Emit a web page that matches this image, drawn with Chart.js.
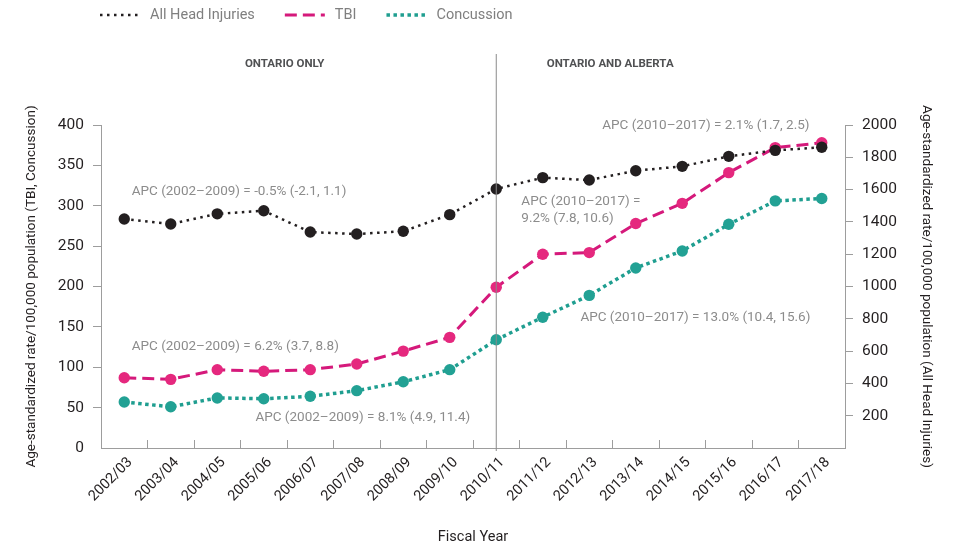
<!DOCTYPE html>
<html>
<head>
<meta charset="utf-8">
<script src="https://cdn.jsdelivr.net/npm/chart.js@4.4.1/dist/chart.umd.min.js"></script>
<style>
  html, body { margin: 0; padding: 0; background: #fff; }
  #wrap { width: 962px; height: 560px; }
</style>
</head>
<body>
<div id="wrap"><canvas id="chart"></canvas></div>
<script>
// Data
const fiscalYears = ['2002/03', '2003/04', '2004/05', '2005/06', '2006/07', '2007/08', '2008/09', '2009/10',
                     '2010/11', '2011/12', '2012/13', '2013/14', '2014/15', '2015/16', '2016/17', '2017/18'];
const allHeadInjuries = [1418, 1387, 1450, 1469, 1337, 1325, 1342, 1445, 1604, 1674, 1659, 1717, 1744, 1806, 1843, 1862];
const tbi = [87, 85, 97, 95, 97, 104, 120, 137, 199, 240, 242, 278, 303, 341, 372, 378];
const concussion = [57, 51, 62, 61, 64, 71, 82, 97, 134, 162, 189, 223, 244, 277, 306, 309];

const leftAxisMax = 400, leftAxisStep = 50;
const rightAxisMax = 2000, rightAxisStep = 200;

const sections = ['ONTARIO ONLY', 'ONTARIO AND ALBERTA'];
const splitIndex = 8; // 2010/11, where Alberta joins

// APC notes: [text lines, category index, left-axis value]
const apcNotes = [
  { lines: ['APC (2002\u20132009) = -0.5% (-2.1, 1.1)'], x: 0.16, y: 317 },
  { lines: ['APC (2002\u20132009) = 6.2% (3.7, 8.8)'], x: 0.16, y: 126 },
  { lines: ['APC (2002\u20132009) = 8.1% (4.9, 11.4)'], x: 2.82, y: 37 },
  { lines: ['APC (2010\u20132017) = 2.1% (1.7, 2.5)'], x: 10.28, y: 399 },
  { lines: ['APC (2010\u20132017) =', '9.2% (7.8, 10.6)'], x: 8.54, y: 305 },
  { lines: ['APC (2010\u20132017) = 13.0% (10.4, 15.6)'], x: 9.81, y: 161 }
];

const FONT = 'Roboto, "Noto Sans", sans-serif';
const axisGray = '#9d9d9d';
const textDark = '#231f20';

// Legend drawn as line samples, like the original
const legendPlugin = {
  id: 'lineLegend',
  afterDraw(chart) {
    const ctx = chart.ctx;
    let x = 100;
    const y = 15;
    ctx.save();
    ctx.font = '14.5px ' + FONT;
    ctx.textBaseline = 'middle';
    chart.data.datasets.forEach(ds => {
      ctx.beginPath();
      ctx.strokeStyle = ds.borderColor;
      ctx.lineWidth = ds.borderWidth;
      ctx.setLineDash(ds.borderDash);
      ctx.moveTo(x, y);
      ctx.lineTo(x + 40, y);
      ctx.stroke();
      ctx.setLineDash([]);
      ctx.fillStyle = '#7f7f7f';
      ctx.fillText(ds.label, x + 50, y);
      x += 50 + ctx.measureText(ds.label).width + 30;
    });
    ctx.restore();
  }
};

// Divider, section headers and APC notes
const notesPlugin = {
  id: 'notes',
  afterDatasetsDraw(chart) {
    const ctx = chart.ctx;
    const xs = chart.scales.x, ys = chart.scales.y;
    const area = chart.chartArea;
    const xDiv = xs.getPixelForValue(splitIndex);
    ctx.save();
    ctx.beginPath();
    ctx.strokeStyle = '#8a8a8a';
    ctx.lineWidth = 1;
    ctx.moveTo(xDiv, 54);
    ctx.lineTo(xDiv, area.bottom + 3);
    ctx.stroke();

    ctx.font = 'bold 11.5px ' + FONT;
    ctx.fillStyle = '#505153';
    ctx.textAlign = 'center';
    ctx.textBaseline = 'middle';
    ctx.fillText(sections[0], xs.getPixelForValue(3.45), 64);
    ctx.fillText(sections[1], xs.getPixelForValue(10.45), 64);

    ctx.font = '13.5px ' + FONT;
    ctx.fillStyle = '#8c8c8c';
    ctx.textAlign = 'left';
    apcNotes.forEach(n => {
      const px = xs.getPixelForValue(n.x);
      const py = ys.getPixelForValue(n.y);
      n.lines.forEach((line, i) => ctx.fillText(line, px, py + i * 17));
    });
    ctx.restore();
  }
};

new Chart(document.getElementById('chart'), {
  type: 'line',
  data: {
    labels: fiscalYears,
    datasets: [
      {
        label: 'All Head Injuries',
        data: allHeadInjuries,
        yAxisID: 'y2',
        borderColor: '#231f20',
        backgroundColor: '#231f20',
        borderWidth: 2.5,
        borderDash: [2.5, 4.5],
        pointRadius: 5.7,
        pointBorderWidth: 0,
        pointBackgroundColor: '#231f20'
      },
      {
        label: 'TBI',
        data: tbi,
        yAxisID: 'y',
        borderColor: '#d5197b',
        backgroundColor: '#e5287e',
        borderWidth: 3,
        borderDash: [12, 6],
        pointRadius: 5.7,
        pointBorderWidth: 0,
        pointBackgroundColor: '#e5287e'
      },
      {
        label: 'Concussion',
        data: concussion,
        yAxisID: 'y',
        borderColor: '#1f9e90',
        backgroundColor: '#22a194',
        borderWidth: 3.5,
        borderDash: [3.5, 3.5],
        pointRadius: 5.7,
        pointBorderWidth: 0,
        pointBackgroundColor: '#22a194'
      }
    ]
  },
  options: {
    responsive: true,
    maintainAspectRatio: false,
    animation: false,
    layout: { padding: { top: 125, left: 0, right: 0, bottom: 0 } },
    plugins: {
      legend: { display: false },
      tooltip: { enabled: false }
    },
    scales: {
      x: {
        offset: true,
        grid: {
          offset: true,
          drawOnChartArea: false,
          drawTicks: true,
          tickLength: -8,
          color: axisGray
        },
        border: { color: axisGray },
        ticks: {
          autoSkip: false,
          minRotation: 45,
          maxRotation: 45,
          padding: 14,
          labelOffset: 6,
          color: textDark,
          font: { family: FONT, size: 14.5 }
        },
        title: {
          display: true,
          text: 'Fiscal Year',
          color: textDark,
          padding: { top: 4, bottom: 14 },
          font: { family: FONT, size: 14.5 }
        },
        afterFit(scale) { scale.height = 112; }
      },
      y: {
        position: 'left',
        min: 0,
        max: leftAxisMax,
        ticks: {
          stepSize: leftAxisStep,
          padding: 9,
          color: textDark,
          font: { family: FONT, size: 15.5 }
        },
        grid: {
          drawOnChartArea: false,
          tickLength: 8,
          color: ctx => (ctx.tick && ctx.tick.value === 0 ? 'rgba(0,0,0,0)' : axisGray)
        },
        border: { color: axisGray },
        title: {
          display: true,
          text: 'Age-standardized rate/100,000 population (TBI, Concussion)',
          color: textDark,
          padding: { top: 24 },
          font: { family: FONT, size: 13.5 }
        },
        afterFit(scale) { scale.width = 101; }
      },
      y2: {
        position: 'right',
        min: 0,
        max: rightAxisMax,
        ticks: {
          stepSize: rightAxisStep,
          padding: 9,
          color: textDark,
          font: { family: FONT, size: 15.5 },
          callback: v => (v === 0 ? '' : v)
        },
        grid: {
          drawOnChartArea: false,
          tickLength: 8,
          color: ctx => (ctx.tick && ctx.tick.value === 0 ? 'rgba(0,0,0,0)' : axisGray)
        },
        border: { color: axisGray },
        title: {
          display: true,
          text: 'Age-standardized rate/100,000 population (All Head Injuries)',
          color: textDark,
          padding: { top: 28 },
          font: { family: FONT, size: 13.5 }
        },
        afterFit(scale) { scale.width = 117; }
      }
    }
  },
  plugins: [legendPlugin, notesPlugin]
});
</script>
</body>
</html>
